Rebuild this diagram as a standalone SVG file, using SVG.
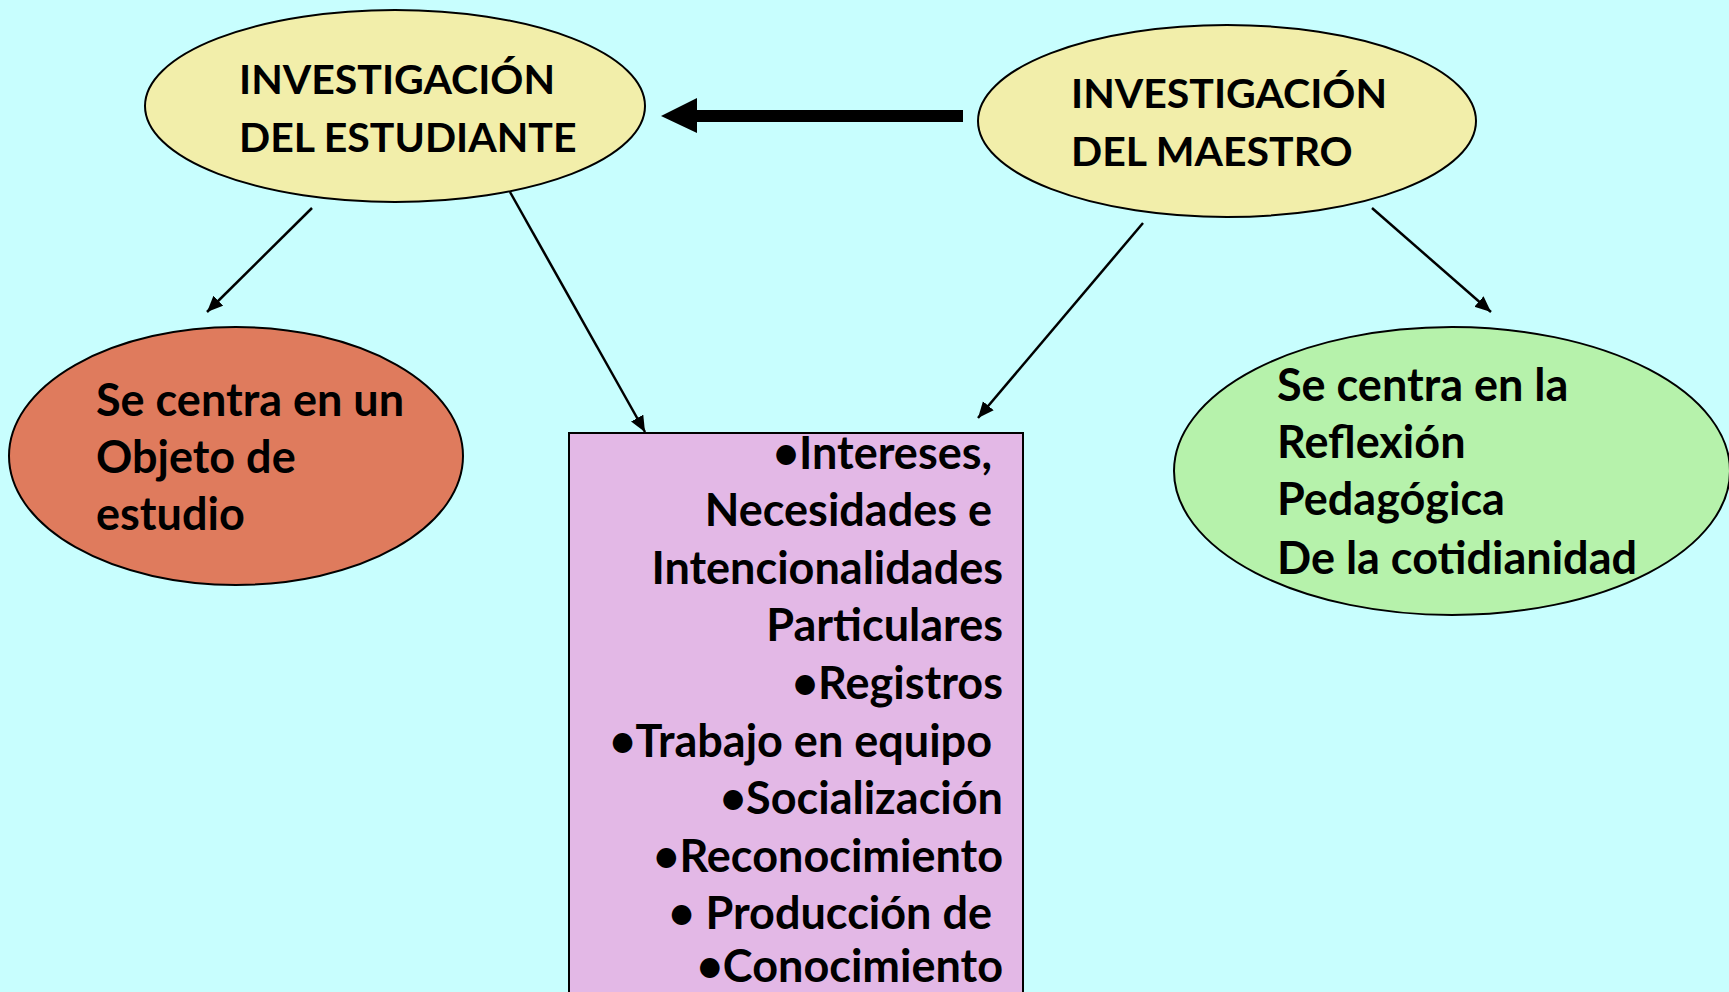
<svg xmlns="http://www.w3.org/2000/svg" width="1729" height="992" viewBox="0 0 1729 992">
<defs>
<style>
.bg{fill:#C8FEFE}
.node{stroke:#000;stroke-width:2}
.yel{fill:#F2EEAA}
.red{fill:#DF7B5D}
.grn{fill:#B6F2AB}
.pnk{fill:#E3B8E6}
.t{font-family:Lato,"Liberation Sans",sans-serif;font-weight:bold;fill:#000}
.t1{font-size:41px}
.t2{font-size:45px}
.conn{stroke:#000;stroke-width:2.5;fill:none}
</style>
<marker id="ah" markerUnits="userSpaceOnUse" markerWidth="18" markerHeight="16" refX="16" refY="7" orient="auto">
<path d="M0,0 L16,7 L0,14 Z" fill="#000"/>
</marker>
</defs>
<rect class="bg" x="0" y="0" width="1729" height="992"/>
<g id="connectors">
<path class="conn" d="M312,208 L207,312" marker-end="url(#ah)"/>
<path class="conn" d="M510,192 L645,432" marker-end="url(#ah)"/>
<path class="conn" d="M1143,223 L978,418" marker-end="url(#ah)"/>
<path class="conn" d="M1372,208 L1491,312" marker-end="url(#ah)"/>
<path d="M963,110 L697,110 L697,98 L661,116 L697,133 L697,122 L963,122 Z" fill="#000"/>
</g>
<g id="node-estudiante">
<ellipse class="node yel" cx="395" cy="106" rx="250" ry="96"/>
<text class="t t1" x="239" y="94">INVESTIGACIÓN</text>
<text class="t t1" x="239" y="152">DEL ESTUDIANTE</text>
</g>
<g id="node-maestro">
<ellipse class="node yel" cx="1227" cy="121" rx="249" ry="96"/>
<text class="t t1" x="1071" y="108">INVESTIGACIÓN</text>
<text class="t t1" x="1071" y="166">DEL MAESTRO</text>
</g>
<g id="node-objeto">
<ellipse class="node red" cx="236" cy="456" rx="227" ry="129"/>
<text class="t t2" x="96" y="416">Se centra en un</text>
<text class="t t2" x="96" y="473">Objeto de</text>
<text class="t t2" x="96" y="530">estudio</text>
</g>
<g id="node-reflexion">
<ellipse class="node grn" cx="1452" cy="471" rx="278" ry="144"/>
<text class="t t2" x="1277" y="401">Se centra en la</text>
<text class="t t2" x="1277" y="458">Reflexión</text>
<text class="t t2" x="1277" y="515">Pedagógica</text>
<text class="t t2" x="1277" y="574">De la cotidianidad</text>
</g>
<g id="node-lista">
<rect class="node pnk" x="569" y="433" width="454" height="580"/>
<g class="t t2" text-anchor="end">
<text x="992" y="469">•Intereses,</text>
<text x="992" y="526">Necesidades e</text>
<text x="1003" y="584">Intencionalidades</text>
<text x="1003" y="641">Particulares</text>
<text x="1003" y="699">•Registros</text>
<text x="992" y="757">•Trabajo en equipo</text>
<text x="1003" y="814">•Socialización</text>
<text x="1003" y="872">•Reconocimiento</text>
<text x="992" y="929">• Producción de</text>
<text x="1003" y="982">•Conocimiento</text>
</g>
</g>
</svg>
